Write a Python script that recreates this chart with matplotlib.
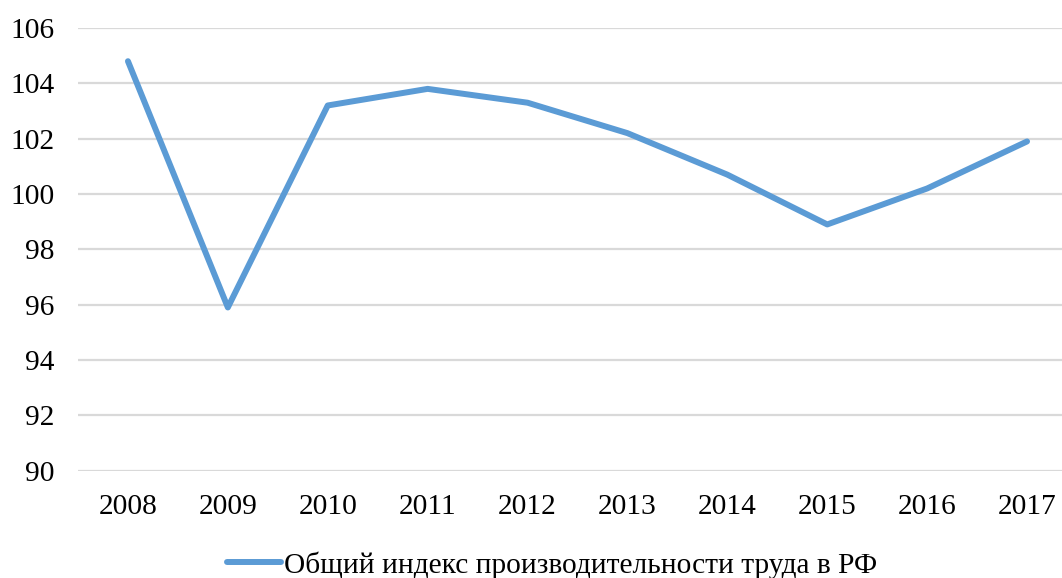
import matplotlib.pyplot as plt

years = ['2008', '2009', '2010', '2011', '2012', '2013', '2014', '2015', '2016', '2017']
index_values = [104.8, 95.9, 103.2, 103.8, 103.3, 102.2, 100.7, 98.9, 100.2, 101.9]
series_name = 'Общий индекс производительности труда в РФ'

plt.rcParams['font.family'] = ['Liberation Serif', 'DejaVu Serif']

fig = plt.figure(figsize=(10.62, 5.78), dpi=100)
ax = fig.add_axes([78 / 1062, 107.3 / 578, 1 - 78 / 1062, (470.7 - 28) / 578])

x = list(range(len(years)))
ax.plot(x, index_values, color='#5B9BD5', linewidth=4.3, solid_capstyle='round',
        label=series_name)

ax.set_ylim(90, 106)
ax.set_yticks(range(90, 107, 2))
ax.set_xlim(-0.5, 9.35)
ax.set_xticks(x)
ax.set_xticklabels(years)

ax.grid(axis='y', color='#D9D9D9', linewidth=1.6)
ax.set_axisbelow(True)
for s in ax.spines.values():
    s.set_visible(False)
ax.tick_params(axis='both', length=0, labelsize=21.2, colors='black')
ax.tick_params(axis='y', pad=17)
ax.tick_params(axis='x', pad=17)

fig.legend(loc='center', bbox_to_anchor=(552 / 1062, 1 - 565 / 578), frameon=False,
           fontsize=21.2, handlelength=1.85, handletextpad=0.1)

fig.savefig('out.png', dpi=100)
